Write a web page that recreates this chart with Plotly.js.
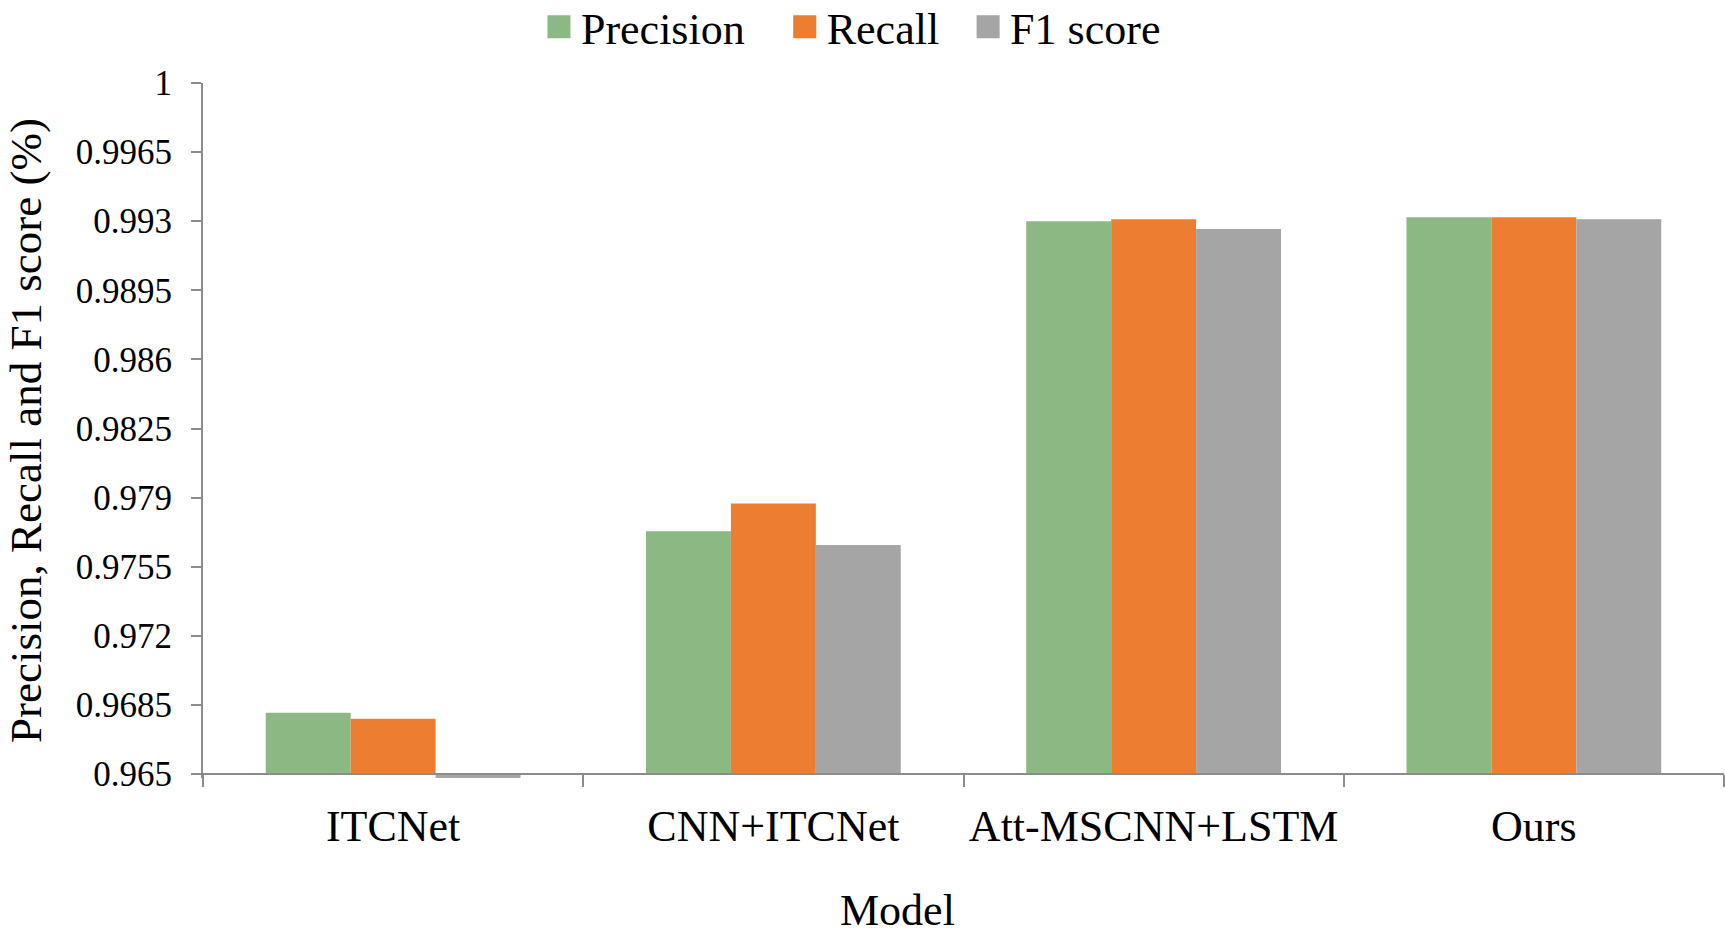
<!DOCTYPE html>
<html>
<head>
<meta charset="utf-8">
<script src="https://cdn.plot.ly/plotly-3.0.1.min.js"></script>
<style>html,body{margin:0;padding:0;background:#fff;}#chart{width:1725px;height:934px;}</style>
</head>
<body>
<div id="chart"></div>
<script>
const models = ["ITCNet", "CNN+ITCNet", "Att-MSCNN+LSTM", "Ours"];
const precision = [0.9681, 0.9773, 0.9930, 0.9932];
const recall = [0.9678, 0.9787, 0.9931, 0.9932];
const f1score = [0.9648, 0.9766, 0.9926, 0.9931];
const seriesNames = ["Precision", "Recall", "F1 score"];
const yTickVals = [0.965, 0.9685, 0.972, 0.9755, 0.979, 0.9825, 0.986, 0.9895, 0.993, 0.9965, 1];
const yTickText = ["0.965", "0.9685", "0.972", "0.9755", "0.979", "0.9825", "0.986", "0.9895", "0.993", "0.9965", "1"];
const axisMin = 0.965;   // where the category axis crosses
const yLow = 0.9648;     // a little room below the axis line for values under axisMin
const yHigh = 1;

const FONT = "Liberation Serif, Times New Roman, serif";
const NB = "\u00a0";
function mk(name, pad, vals, color) {
  return {
    type: "bar", name: name + pad, x: models,
    y: vals.map(v => v - axisMin), base: axisMin,
    customdata: vals, hovertemplate: "%{x}: %{customdata}<extra>" + name + "</extra>",
    marker: {color: color, line: {width: 0}}
  };
}
const data = [
  mk(seriesNames[0], NB + NB + NB, precision, "#8CB883"),
  mk(seriesNames[1], NB + NB, recall, "#ED7D31"),
  mk(seriesNames[2], "", f1score, "#A5A5A5")
];
const axisPos = (axisMin - yLow) / (yHigh - yLow);
const layout = {
  width: 1725, height: 934,
  margin: {l: 203, r: 1, t: 83, b: 156},
  paper_bgcolor: "#fff", plot_bgcolor: "#fff",
  font: {family: FONT, color: "#000", size: 44},
  barmode: "group", bargap: 0.33, bargroupgap: 0,
  showlegend: true,
  legend: {orientation: "h", xref: "container", yref: "container", x: 0.4936, xanchor: "center", y: 0.971, yanchor: "middle",
           font: {family: FONT, size: 44, color: "#000"}, itemwidth: 34, traceorder: "normal"},
  xaxis: {
    type: "category", showgrid: false, zeroline: false,
    anchor: "free", position: axisPos,
    showline: true, linecolor: "#8C8C8C", linewidth: 2,
    ticks: "outside", tickson: "boundaries", ticklen: 12, tickcolor: "#8C8C8C", tickwidth: 2,
    tickfont: {family: FONT, size: 44, color: "#000"},
    ticklabelstandoff: 13
  },
  yaxis: {
    range: [yLow, yHigh], showgrid: false, zeroline: false,
    showline: true, linecolor: "#8C8C8C", linewidth: 2,
    ticks: "outside", ticklen: 10, tickcolor: "#8C8C8C", tickwidth: 2,
    tickvals: yTickVals, ticktext: yTickText,
    tickfont: {family: FONT, size: 35, color: "#000"},
    ticklabelstandoff: 12,
    title: {text: "Precision, Recall and F1 score (%)", font: {family: FONT, size: 45, color: "#000"}, standoff: 20}
  },
  annotations: [{
    text: "Model", xref: "paper", yref: "paper", x: 0.4566, y: -0.19,
    xanchor: "center", yanchor: "middle", showarrow: false,
    font: {family: FONT, size: 44, color: "#000"}
  }]
};
Plotly.newPlot("chart", data, layout, {displayModeBar: false, responsive: false}).then(gd => {
  gd.querySelectorAll(".legend .legendpoints path").forEach(p => {
    const t = p.getAttribute("transform") || "";
    p.setAttribute("transform", (t + " scale(1.92)").trim());
  });
});
</script>
</body>
</html>
